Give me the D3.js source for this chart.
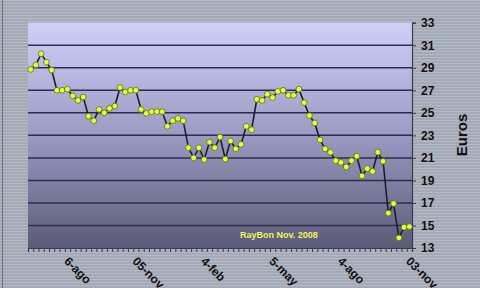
<!DOCTYPE html>
<html>
<head>
<meta charset="utf-8">
<script src="https://cdn.jsdelivr.net/npm/d3@7"></script>
<style>
body { margin: 0; }
svg { display: block; font-family: "Liberation Sans", Arial, sans-serif; }
</style>
</head>
<body>
<div id="chart"></div>
<script>
// weekly closing price, euros
var prices = [28.85, 29.25, 30.25, 29.5, 28.8, 27.0, 27.0, 27.1, 26.5, 26.1,
	26.4, 24.7, 24.3, 25.3, 25.0, 25.4, 25.6, 27.25, 26.85, 27.0,
	27.0, 25.3, 24.95, 25.1, 25.1, 25.1, 23.8, 24.3, 24.5, 24.3,
	21.9, 21.0, 21.9, 20.85, 22.4, 21.9, 22.85, 20.9, 22.5, 21.8,
	22.2, 23.8, 23.5, 26.2, 26.1, 26.65, 26.35, 26.9, 27.0, 26.55,
	26.55, 27.1, 25.9, 24.75, 24.1, 22.6, 21.8, 21.5, 20.75, 20.6,
	20.2, 20.75, 21.15, 19.4, 20.05, 19.8, 21.5, 20.7, 16.1, 16.95,
	13.9, 14.85, 14.9
];
var tickLabels = ["6-ago", "05-nov", "4-feb", "5-may", "4-ago", "03-nov"];
var tickIndex = [7, 20, 33, 46, 59, 72];
var yTicks = [13, 15, 17, 19, 21, 23, 25, 27, 29, 31, 33];
var signature = "RayBon Nov. 2008";

const W = 480, H = 288;
const plot = { left: 28, right: 412, top: 22.7, bottom: 248 };

const svg = d3.select("#chart").append("svg")
	.attr("width", W)
	.attr("height", H);

const defs = svg.append("defs");

// striped grey background
const pat = defs.append("pattern")
	.attr("id", "stripes")
	.attr("width", 4)
	.attr("height", 3)
	.attr("patternUnits", "userSpaceOnUse");
pat.append("rect").attr("width", 4).attr("height", 3).attr("fill", "#a3a9b5");
pat.append("rect").attr("width", 4).attr("height", 1).attr("fill", "#b4bac4");

const grad = defs.append("linearGradient")
	.attr("id", "plotgrad")
	.attr("x1", 0).attr("y1", 0).attr("x2", 0).attr("y2", 1);
grad.append("stop").attr("offset", "0%").attr("stop-color", "#cfcffa");
grad.append("stop").attr("offset", "50%").attr("stop-color", "#9a9ac2");
grad.append("stop").attr("offset", "100%").attr("stop-color", "#5b5b77");

svg.append("rect")
	.attr("width", W)
	.attr("height", H)
	.attr("fill", "url(#stripes)");

svg.append("line")
	.attr("x1", 2.5).attr("x2", 2.5)
	.attr("y1", 0).attr("y2", H)
	.attr("stroke", "#6b707a")
	.attr("stroke-width", 1);

const xScale = d3.scaleLinear()
	.domain([0, prices.length])
	.range([plot.left, plot.right]);

const yScale = d3.scaleLinear()
	.domain([13, 33])
	.range([plot.bottom, plot.top]);

svg.append("rect")
	.attr("x", plot.left)
	.attr("y", plot.top)
	.attr("width", plot.right - plot.left)
	.attr("height", plot.bottom - plot.top)
	.attr("fill", "url(#plotgrad)");

// horizontal gridlines
svg.append("g")
	.selectAll("line")
	.data(yTicks.slice(1, -1))
	.enter()
	.append("line")
	.attr("x1", plot.left)
	.attr("x2", plot.right)
	.attr("y1", d => yScale(d))
	.attr("y2", d => yScale(d))
	.attr("stroke", "#2c2c4c")
	.attr("stroke-width", 1.5);

// right value axis
const yAxis = d3.axisRight(yScale)
	.tickValues(yTicks)
	.tickSize(4)
	.tickPadding(5);

const yg = svg.append("g")
	.attr("transform", "translate(" + plot.right + ",0)")
	.call(yAxis);
yg.select(".domain").attr("stroke", "#3a3a50").attr("stroke-width", 1.2);
yg.selectAll(".tick line").attr("stroke", "#3a3a50");
yg.selectAll("text")
	.attr("fill", "#111")
	.attr("font-size", 12)
	.attr("font-weight", "bold")
	.attr("font-family", "Liberation Sans, Arial, sans-serif");

// bottom category axis: ticks between the weeks
const xAxis = d3.axisBottom(xScale)
	.tickValues(d3.range(0, prices.length + 1))
	.tickSize(4)
	.tickFormat("");

const xg = svg.append("g")
	.attr("transform", "translate(0," + plot.bottom + ")")
	.call(xAxis);
xg.select(".domain").attr("stroke", "#3a3a50").attr("stroke-width", 1.2);
xg.selectAll(".tick line").attr("stroke", "#3a3a50");

svg.append("g")
	.selectAll("text")
	.data(tickLabels)
	.enter()
	.append("text")
	.attr("transform", (d, i) => "translate(" + (xScale(tickIndex[i] + 0.5) - 4) + "," + (plot.bottom + 14) + ") rotate(45)")
	.attr("font-size", 12)
	.attr("font-weight", "bold")
	.attr("fill", "#111")
	.text(d => d);

svg.append("text")
	.attr("transform", "translate(467,135) rotate(-90)")
	.attr("text-anchor", "middle")
	.attr("font-size", 15)
	.attr("font-weight", "bold")
	.attr("fill", "#111")
	.text("Euros");

// price line
const line = d3.line()
	.x((d, i) => xScale(i + 0.5))
	.y(d => yScale(d));

svg.append("path")
	.datum(prices)
	.attr("d", line)
	.attr("fill", "none")
	.attr("stroke", "#1a2030")
	.attr("stroke-width", 1.6);

svg.append("g")
	.selectAll("path")
	.data(prices)
	.enter()
	.append("path")
	.attr("d", d3.symbol().type(d3.symbolCircle).size(26))
	.attr("transform", (d, i) => "translate(" + xScale(i + 0.5) + "," + yScale(d) + ")")
	.attr("fill", "#e6ff3c")
	.attr("stroke", "#5a6a10")
	.attr("stroke-width", 0.8);

svg.append("text")
	.attr("x", 240)
	.attr("y", 238)
	.attr("font-size", 9)
	.attr("font-weight", "bold")
	.attr("fill", "#f2f25a")
	.text(signature);
</script>
</body>
</html>
